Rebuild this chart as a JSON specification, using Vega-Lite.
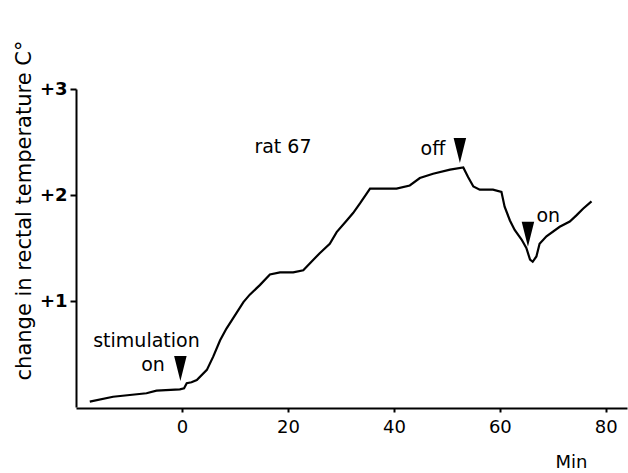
{
  "$schema": "https://vega.github.io/schema/vega-lite/v6.json",
  "width": 551,
  "height": 318,
  "autosize": "none",
  "padding": {"left": 76, "top": 89, "right": 1, "bottom": 66},
  "background": "white",
  "config": {"view": {"stroke": null}, "font": "DejaVu Sans"},
  "datasets": {
    "curve": [
      {"t": -17.4, "v": 0.05}, {"t": -13.0, "v": 0.097}, {"t": -6.7, "v": 0.13}, {"t": -4.8, "v": 0.154},
      {"t": -0.4, "v": 0.167}, {"t": 0.4, "v": 0.176}, {"t": 0.9, "v": 0.224}, {"t": 1.8, "v": 0.233},
      {"t": 2.8, "v": 0.255}, {"t": 4.7, "v": 0.35}, {"t": 5.9, "v": 0.475}, {"t": 7.2, "v": 0.63},
      {"t": 8.4, "v": 0.74}, {"t": 9.7, "v": 0.84}, {"t": 11.6, "v": 0.99}, {"t": 12.8, "v": 1.06},
      {"t": 14.7, "v": 1.15}, {"t": 16.6, "v": 1.25}, {"t": 18.5, "v": 1.27}, {"t": 21.0, "v": 1.27},
      {"t": 22.9, "v": 1.29}, {"t": 24.8, "v": 1.39}, {"t": 26.0, "v": 1.45}, {"t": 27.9, "v": 1.54},
      {"t": 29.2, "v": 1.65}, {"t": 31.1, "v": 1.76}, {"t": 32.3, "v": 1.83}, {"t": 33.6, "v": 1.92},
      {"t": 35.5, "v": 2.06}, {"t": 38.0, "v": 2.06}, {"t": 40.5, "v": 2.06}, {"t": 43.0, "v": 2.09},
      {"t": 44.9, "v": 2.16}, {"t": 47.4, "v": 2.2}, {"t": 50.6, "v": 2.24}, {"t": 53.1, "v": 2.26},
      {"t": 54.0, "v": 2.17}, {"t": 55.0, "v": 2.08}, {"t": 56.2, "v": 2.05}, {"t": 58.7, "v": 2.05},
      {"t": 60.3, "v": 2.03}, {"t": 60.9, "v": 1.89}, {"t": 61.9, "v": 1.76}, {"t": 62.8, "v": 1.67},
      {"t": 64.1, "v": 1.58}, {"t": 65.0, "v": 1.5}, {"t": 65.7, "v": 1.39}, {"t": 66.2, "v": 1.37},
      {"t": 66.9, "v": 1.42}, {"t": 67.5, "v": 1.54}, {"t": 68.8, "v": 1.61}, {"t": 71.3, "v": 1.7},
      {"t": 73.2, "v": 1.75}, {"t": 74.5, "v": 1.81}, {"t": 75.7, "v": 1.87}, {"t": 77.3, "v": 1.94}
    ],
    "arrows": [
      {"t": -0.3, "v": 0.363},
      {"t": 52.45, "v": 2.42},
      {"t": 65.3, "v": 1.63}
    ],
    "labels": [
      {"t": 19.06, "v": 2.396, "label": "rat 67"},
      {"t": -6.7, "v": 0.566, "label": "stimulation"},
      {"t": -5.47, "v": 0.34, "label": "on"},
      {"t": 47.36, "v": 2.377, "label": "off"},
      {"t": 69.15, "v": 1.748, "label": "on"}
    ]
  },
  "encoding": {
    "x": {
      "field": "t",
      "type": "quantitative",
      "scale": {"domain": [-20, 84], "nice": false, "zero": false},
      "axis": {
        "values": [0, 20, 40, 60, 80],
        "title": "Min",
        "titleX": 495,
        "titleY": 54,
        "titleAlign": "center",
        "titleBaseline": "middle",
        "titleFontSize": 18,
        "titleFontWeight": "normal",
        "titleColor": "black",
        "labelFontSize": 18,
        "labelColor": "black",
        "labelPadding": 6,
        "labelFlush": false,
        "tickSize": 4,
        "tickWidth": 2,
        "tickColor": "black",
        "domainColor": "black",
        "domainWidth": 2,
        "offset": 1,
        "grid": false
      }
    },
    "y": {
      "field": "v",
      "type": "quantitative",
      "scale": {"domain": [0, 3], "nice": false, "zero": false},
      "axis": {
        "values": [1, 2, 3],
        "labelExpr": "'+' + datum.value",
        "title": "change in rectal temperature C°",
        "titleX": -52,
        "titleY": 121,
        "titleAlign": "center",
        "titleBaseline": "middle",
        "titleAngle": -90,
        "titleFontSize": 21,
        "titleFontWeight": "normal",
        "titleColor": "black",
        "labelFontSize": 18,
        "labelFontWeight": "bold",
        "labelColor": "black",
        "labelPadding": 3,
        "tickSize": 6,
        "tickWidth": 2,
        "tickColor": "black",
        "domainColor": "black",
        "domainWidth": 2,
        "grid": false
      }
    }
  },
  "layer": [
    {
      "data": {"name": "curve"},
      "mark": {"type": "line", "color": "black", "strokeWidth": 2.2}
    },
    {
      "data": {"name": "arrows"},
      "mark": {"type": "point", "shape": "M-0.5,-1L0.5,-1L0,1Z", "filled": true, "color": "black", "opacity": 1, "size": 625}
    },
    {
      "data": {"name": "labels"},
      "mark": {"type": "text", "color": "black", "fontSize": 19, "align": "center", "baseline": "alphabetic"},
      "encoding": {"text": {"field": "label", "type": "nominal"}}
    }
  ]
}
